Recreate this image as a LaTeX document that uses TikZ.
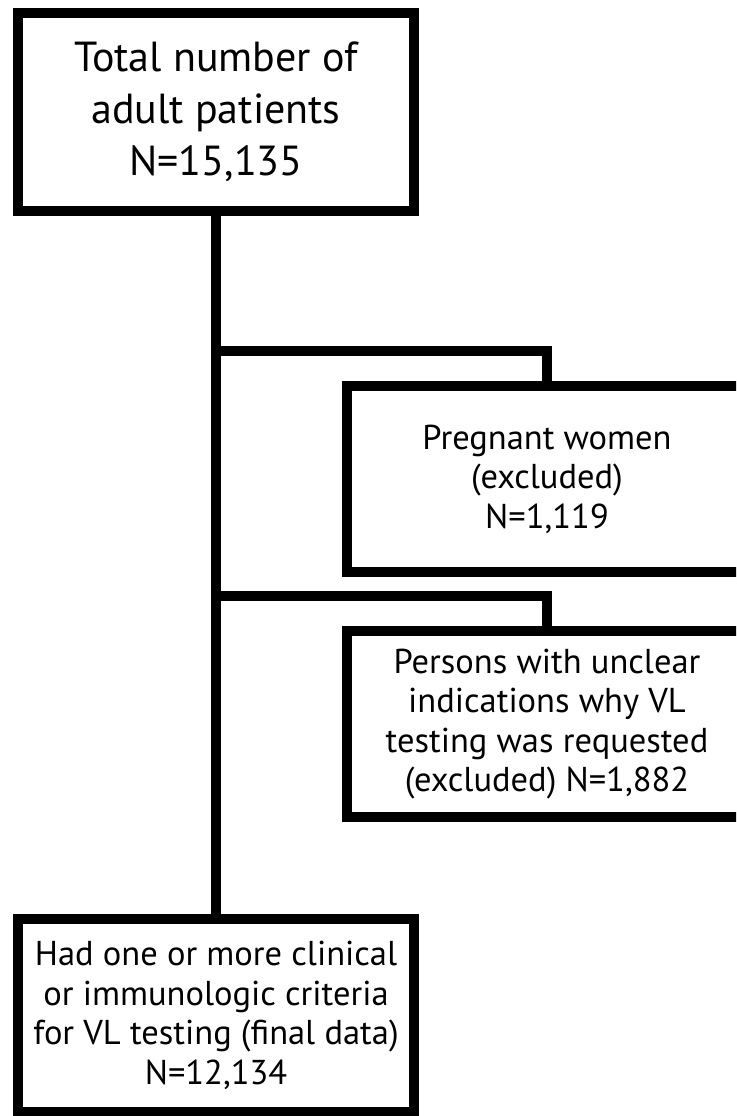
\documentclass[tikz,border=0pt]{standalone}
\usepackage{fontspec}
\setmainfont{PT Sans}
\usepackage{tikz}
\usetikzlibrary{positioning, calc}

\begin{document}
\begin{tikzpicture}[x=1pt, y=-1pt,
    box/.style={draw, line width=10pt, align=center, inner sep=0pt},
    bigtext/.style={font=\fontsize{42}{52}\selectfont},
    smalltext/.style={font=\fontsize{34.5}{39.5}\selectfont},
    link/.style={line width=10pt}]
    \useasboundingbox (0,0) rectangle (736,1116);
    \clip (0,0) rectangle (736,1116);

    % Main column
    \node[box, bigtext, minimum width=396pt, minimum height=198pt] (total) at (216,112)
        {Total number of\\adult patients\\N=15,135};
    \node[box, smalltext, minimum width=396pt, minimum height=193pt] (final) at (216,1015.5)
        {Had one or more clinical\\or immunologic criteria\\for VL testing (final data)\\N=12,134};

    % Exclusions
    \node[box, smalltext, minimum width=400pt, minimum height=186pt] (pregnant) at (547,479)
        {Pregnant women\\(excluded)\\N=1,119};
    \node[box, smalltext, minimum width=400pt, minimum height=186pt] (unclear) at (547,724)
        {Persons with unclear\\indications why VL\\testing was requested\\(excluded) N=1,882};

    % Connectors
    \coordinate (j1) at (216,351);
    \coordinate (j2) at (216,596);
    \draw[link] (total) -- (final);
    \draw[link] (j1) -| (pregnant.north);
    \draw[link] (j2) -| (unclear.north);
\end{tikzpicture}
\end{document}
